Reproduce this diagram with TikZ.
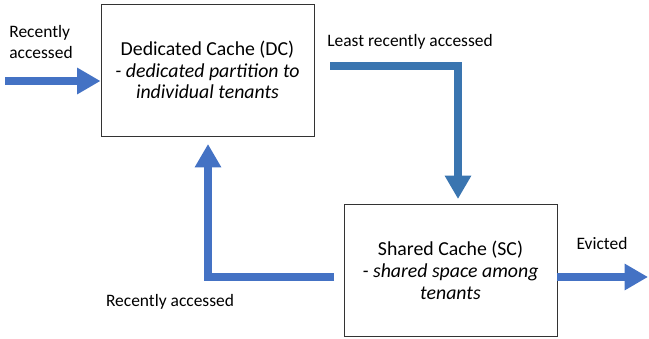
\documentclass[tikz,border=0pt]{standalone}
\usepackage{fontspec}
\setmainfont{Carlito}
\usetikzlibrary{arrows.meta,positioning}
\definecolor{flowblue}{HTML}{4472C4}
\definecolor{lrablue}{HTML}{3A75B0}

\begin{document}
\begin{tikzpicture}[x=0.03cm,y=-0.03cm]
             \tikzstyle{cachebox} = [draw=black!80,line width=0.8pt,minimum width=6.39cm,minimum height=3.96cm,align=center,font=\fontsize{16.9}{18.5}\selectfont]
             \tikzstyle{flow} = [draw=flowblue,line width=7.6pt,-{Triangle[length=0.7cm,width=0.75cm]}]
             \tikzstyle{lbl} = [font=\fontsize{14.9}{17.5}\selectfont,inner sep=0pt]
		\useasboundingbox (0,0) rectangle (649,339);
		% Caches
		\node[cachebox] at (207.5,70)(dc) {Dedicated Cache (DC)\\\textit{- dedicated partition to}\\\textit{individual tenants}};
		\node[cachebox] at (450.5,270.5)(sc) {Shared Cache (SC)\\\textit{- shared space among}\\\textit{tenants}};
		% Input
		\coordinate (in) at (5,81);
		\node[lbl,align=left] at (41,42)(in_lbl) {Recently\\accessed};
		\draw[flow] (in) -- (in -| dc.west);
		% Least recently accessed
		\coordinate (lra_0) at (330,66);
		\coordinate (lra_1) at (458,199);
		\node[lbl] at (410,42)(lra_lbl) {Least recently accessed};
		\draw[flow,draw=lrablue] (lra_0) -| (lra_1);
		% Recently accessed (back to DC)
		\coordinate (ra_0) at (334,277);
		\coordinate (ra_1) at (208,144);
		\node[lbl] at (170,302)(ra_lbl) {Recently accessed};
		\draw[flow] (ra_0) -| (ra_1);
		% Evicted
		\coordinate (ev) at (648,277);
		\node[lbl] at (602,244)(ev_lbl) {Evicted};
		\draw[flow] (ev -| sc.east) -- (ev);
		\end{tikzpicture}
\end{document}
